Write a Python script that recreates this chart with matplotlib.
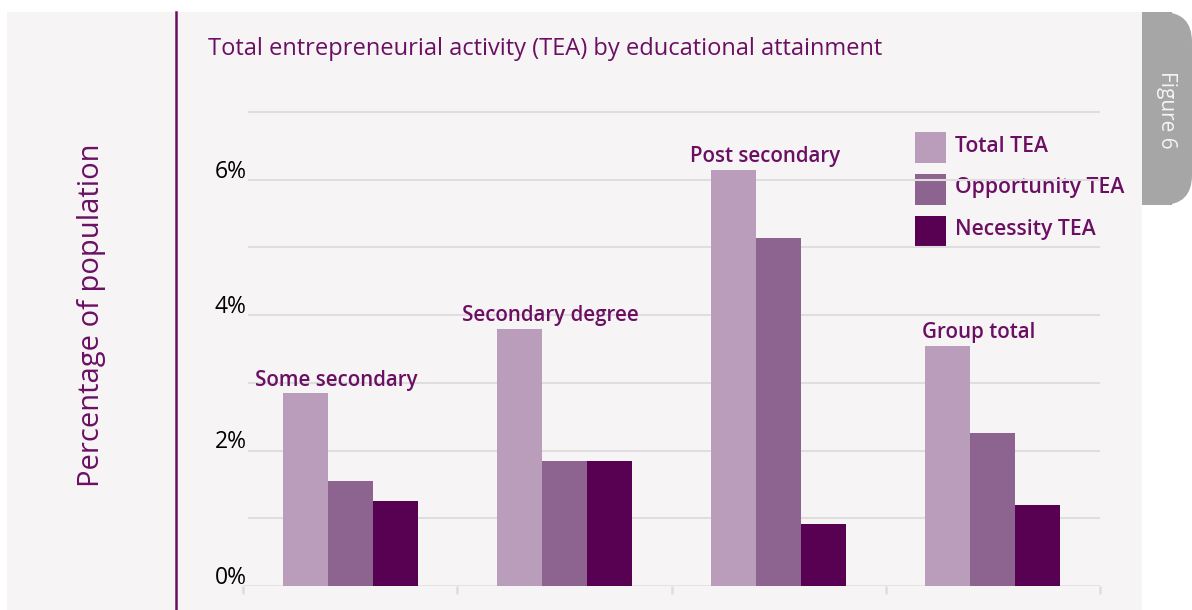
import matplotlib.pyplot as plt
from matplotlib.patches import Rectangle, FancyBboxPatch
import numpy as np

plt.rcParams['font.family'] = ['Open Sans', 'DejaVu Sans']

# data (percentage of population)
groups = ['Some secondary', 'Secondary degree', 'Post secondary', 'Group total']
series = ['Total TEA', 'Opportunity TEA', 'Necessity TEA']
total_tea = [2.85, 3.80, 6.15, 3.55]
opportunity_tea = [1.55, 1.85, 5.14, 2.26]
necessity_tea = [1.26, 1.85, 0.92, 1.20]
yticks = [0, 2, 4, 6]

purple = '#6b0f63'
colors = ['#b99dba', '#8d6390', '#580052']
grid_c = '#e0dddf'
panel_c = '#f7f4f5'

W, H = 1192, 610
fig = plt.figure(figsize=(W / 100, H / 100), dpi=100)

# background layer in pixel coords
bg = fig.add_axes([0, 0, 1, 1], zorder=0)
bg.set_xlim(0, W)
bg.set_ylim(H, 0)
bg.axis('off')
bg.add_patch(Rectangle((7, 12), 1135, 600, color=panel_c, lw=0))
# figure tab
bg.add_patch(FancyBboxPatch((1142, 12), 50, 193, boxstyle='round,pad=0,rounding_size=30',
                            color='#a6a6a6', lw=0))
bg.add_patch(Rectangle((1142, 12), 30, 193, color='#a6a6a6', lw=0))
bg.text(1166, 110, 'Figure 6', rotation=-90, color='#f4f4f4', fontsize=15,
        ha='center', va='center')
bg.plot([176, 176], [12, 610], color=purple, lw=1.8)
bg.text(92, 315, 'Percentage of population', rotation=90, color=purple,
        fontsize=21, ha='center', va='center')
bg.text(208, 49, 'Total entrepreneurial activity (TEA) by educational attainment',
        color=purple, fontsize=17, ha='left', va='center')

# legend
for k, (name, c) in enumerate(zip(series, colors)):
    y0 = 132 + k * 42
    bg.add_patch(Rectangle((915, y0), 31, 31, color=c, lw=0))
    bg.text(955, y0 + 14, name, color=purple, fontsize=15.2, fontweight='semibold',
            ha='left', va='center')

# main chart
ax = fig.add_axes([243 / W, (H - 586) / H, 857 / W, (586 - 98.5) / H], zorder=1)
ax.set_facecolor('none')
ax.set_xlim(-0.5, 3.5)
ax.set_ylim(0, 7.2)
for s in ax.spines.values():
    s.set_visible(False)

ax.hlines(np.arange(1, 8), -0.475, 3.5, color=grid_c, lw=1.5, zorder=1)
ax.hlines(0, -0.5, 3.5, color=grid_c, lw=1.8, zorder=1)

x = np.arange(len(groups))
w = 0.21
for off, vals, c in zip([-w, 0, w], [total_tea, opportunity_tea, necessity_tea], colors):
    ax.bar(x + off, vals, w, color=c, zorder=2)

for i, g in enumerate(groups):
    ax.text(i - 0.065, total_tea[i] + 0.11, g, color=purple, fontsize=14.8,
            fontweight='semibold', ha='center', va='baseline')

for v in yticks:
    ax.text(-0.482, v + 0.12, f'{v}%', ha='right', va='center', fontsize=16.5, color='black')

ax.set_yticks([])
ax.set_xticks(np.arange(-0.5, 4, 1))
ax.set_xticklabels([])
ax.tick_params(axis='x', length=6, width=1.8, color=grid_c, direction='out')

fig.savefig('out.png', dpi=100, facecolor='white')
